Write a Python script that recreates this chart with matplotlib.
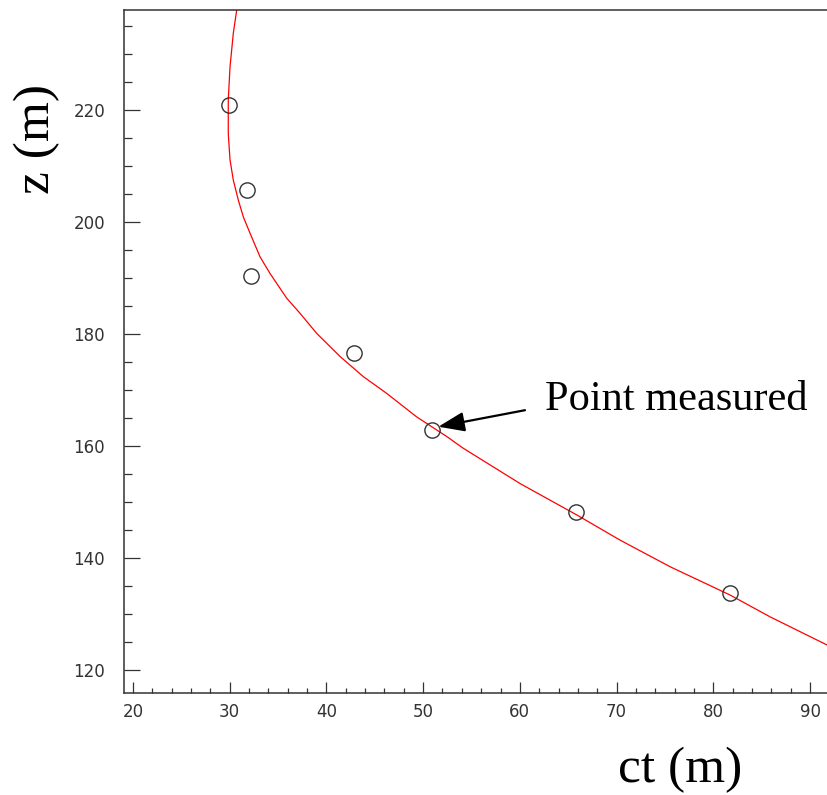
import matplotlib
matplotlib.use("Agg")
import matplotlib.pyplot as plt
from matplotlib.ticker import MultipleLocator

# Measured points (ct, z)
ct_meas = [29.93, 31.76, 32.2, 42.85, 50.9, 65.78, 81.73]
z_meas = [220.9, 205.8, 190.3, 176.55, 162.86, 148.16, 133.8]

# Fitted curve
ct_fit = [30.72, 30.37, 30.03, 29.85, 29.85, 30.03, 30.37, 30.89, 31.41, 32.10,
          33.13, 34.17, 35.89, 37.27, 39.0, 41.4, 43.81, 46.23, 49.33, 52.44,
          54.15, 60.02, 65.88, 70.36, 75.53, 81.73, 85.87, 91.73]
z_fit = [237.86, 233.7, 227.7, 221.8, 215.8, 211.1, 207.5, 203.9, 200.9, 198.0,
         193.8, 190.8, 186.4, 183.7, 180.1, 176.0, 172.4, 169.4, 165.2, 161.7,
         159.6, 153.3, 147.7, 143.2, 138.45, 133.4, 129.5, 124.5]

x_ticks = [20, 30, 40, 50, 60, 70, 80, 90]
y_ticks = [120, 140, 160, 180, 200, 220]

annot_tip = (51.57, 163.45)
annot_tail = (60.53, 166.4)
annot_text = "Point measured"

fig = plt.figure(figsize=(8.28, 7.95), dpi=100)
ax = fig.add_axes([124.5 / 828, 1 - 693 / 795, 703.5 / 828, (693 - 9.5) / 795])

ax.plot(ct_fit, z_fit, color="#ff0000", lw=0.9, zorder=2)
ax.plot(ct_meas, z_meas, linestyle="none", marker="o", markersize=11,
        markerfacecolor="none", markeredgecolor="#333333", markeredgewidth=1.0, zorder=3)

ax.set_xlim(19.12, 91.86)
ax.set_ylim(115.9, 237.95)

ax.set_xticks(x_ticks)
ax.set_yticks(y_ticks)
ax.xaxis.set_minor_locator(MultipleLocator(2))
ax.yaxis.set_minor_locator(MultipleLocator(5))

spine_c = "#333333"
for s in ["left", "bottom", "top"]:
    ax.spines[s].set_color(spine_c)
    ax.spines[s].set_linewidth(1.1)
ax.spines["right"].set_visible(False)

ax.tick_params(axis="y", which="major", direction="in", length=11.5, width=0.9,
               color=spine_c, pad=14, labelsize=12, labelcolor="#333333", right=False)
ax.tick_params(axis="y", which="minor", direction="in", length=5.8, width=0.9,
               color=spine_c, right=False)
ax.tick_params(axis="x", which="major", direction="in", length=8, width=0.9,
               color=spine_c, pad=7, labelsize=12, labelcolor="#333333", top=False)
ax.tick_params(axis="x", which="minor", direction="in", length=3.6, width=0.9,
               color=spine_c, top=False)

serif = ["Liberation Serif", "DejaVu Serif"]
fig.text(680 / 828, 1 - 770 / 795, "ct (m)", family=serif, fontsize=37,
         ha="center", va="center")
fig.text(37 / 828, 1 - 139 / 795, "z (m)", family=serif, fontsize=37,
         ha="center", va="center", rotation=90)

ax.annotate("", xy=annot_tip, xytext=annot_tail,
            arrowprops=dict(arrowstyle="-|>,head_length=1.6,head_width=0.6",
                            color="black", lw=1.6, shrinkA=0, shrinkB=0))
ax.text(62.6, 166.4, annot_text, family=serif, fontsize=30.5,
        ha="left", va="baseline", color="black")

fig.savefig("out.png", dpi=100)
